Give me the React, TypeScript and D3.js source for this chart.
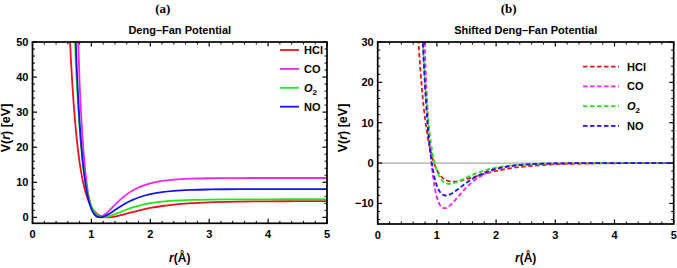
import React from "react";
import * as d3 from "d3";

// internuclear distance r (Å)
const R = [0.6, 0.65, 0.7, 0.75, 0.8, 0.85, 0.9, 0.95, 1.0, 1.05, 1.1, 1.15, 1.2, 1.25, 1.3, 1.4, 1.5, 1.6, 1.7, 1.8, 2.0, 2.2, 2.4, 2.7, 3.0, 3.5, 4.0, 4.5, 5.0];

// Deng-Fan potential V(r) in eV
const HCl = [64.85, 45.68, 32.15, 22.52, 15.62, 10.69, 7.157, 4.654, 2.901, 1.699, 0.903, 0.406, 0.129, 0.0125, 0.0119, 0.2345, 0.618, 1.062, 1.512, 1.937, 2.669, 3.229, 3.641, 4.049, 4.29, 4.488, 4.567, 4.599, 4.611];
const CO = [242.4, 156.2, 99.63, 62.5, 38.21, 22.48, 12.48, 6.326, 2.74, 0.859, 0.095, 0.0476, 0.444, 1.101, 1.895, 3.595, 5.186, 6.542, 7.642, 8.509, 9.691, 10.371, 10.752, 11.032, 11.147, 11.208, 11.222, 11.225, 11.225];
const O2 = [132.5, 88.77, 59.24, 39.17, 25.52, 16.26, 10.04, 5.912, 3.244, 1.589, 0.6325, 0.1554, 0.0023, 0.0635, 0.262, 0.871, 1.567, 2.231, 2.813, 3.302, 4.022, 4.474, 4.75, 4.972, 5.073, 5.134, 5.15, 5.154, 5.156];
const NO = [155.7, 102.3, 66.66, 42.83, 26.92, 16.37, 9.485, 5.103, 2.431, 0.923, 0.2, 0.00004, 0.139, 0.49, 0.966, 2.069, 3.17, 4.152, 4.98, 5.656, 6.62, 7.207, 7.556, 7.829, 7.949, 8.02, 8.038, 8.042, 8.043];

// dissociation energies (eV) used for the shifted potential
const wellDepths = [4.619, 11.2256, 5.156, 8.0437];

const seriesNames = ["HCl", "CO", "O2", "NO"];
const seriesValues = [HCl, CO, O2, NO];
const seriesColors = ["#e3161c", "#f224f2", "#22e622", "#1515e8"];

const xTicks = [0, 1, 2, 3, 4, 5];
const yTicksA = [0, 10, 20, 30, 40, 50];
const yTicksB = [-10, 0, 10, 20, 30];

const SANS = "'Liberation Sans', Arial, sans-serif";
const SERIF = "'Liberation Serif', 'Times New Roman', serif";

type PanelProps = {
  id: string;
  x0: number;
  x1: number;
  y0: number;
  y1: number;
  yDomain: [number, number];
  yTicks: number[];
  shifted: boolean;
  tag: string;
  title: string;
  ylabelX: number;
  legend: { lx0: number; lx1: number; tx: number; ty0: number; dy: number };
};

function LegendLabel({ name }: { name: string }) {
  if (name === "O2") {
    return (
      <>
        <tspan fontStyle="italic">O</tspan>
        <tspan fontSize={8} dy={3}>2</tspan>
      </>
    );
  }
  return <>{name}</>;
}

function Panel(p: PanelProps) {
  const x = d3.scaleLinear().domain([0, 5]).range([p.x0, p.x1]);
  const y = d3.scaleLinear().domain(p.yDomain).range([p.y1, p.y0]);
  const line = d3
    .line<[number, number]>()
    .x((d) => x(d[0]))
    .y((d) => y(d[1]))
    .curve(d3.curveMonotoneX);

  const xMinor = d3.range(0, 5.0001, 0.2).filter((v) => Math.abs(v - Math.round(v)) > 1e-6);
  const yMinor = d3
    .range(Math.ceil(p.yDomain[0] / 2) * 2, p.yDomain[1] + 0.001, 2)
    .filter((v) => Math.abs(v % 10) > 1e-6);

  const major = 4.5;
  const minor = 2.5;
  const cx = (p.x0 + p.x1) / 2;

  return (
    <g>
      <text x={cx - 17} y={13} fontFamily={SERIF} fontWeight="bold" fontSize={13} textAnchor="middle">
        {p.tag}
      </text>
      <text x={cx} y={34} fontFamily={SANS} fontWeight="bold" fontSize={11} textAnchor="middle">
        {p.title}
      </text>
      <defs>
        <clipPath id={p.id}>
          <rect x={p.x0} y={p.y0} width={p.x1 - p.x0} height={p.y1 - p.y0} />
        </clipPath>
      </defs>
      {p.shifted && (
        <line x1={p.x0} x2={p.x1} y1={y(0)} y2={y(0)} stroke="#a8a8a8" strokeWidth={1.2} />
      )}
      <g clipPath={`url(#${p.id})`}>
        {seriesValues.map((vals, i) => {
          const pts: [number, number][] = R.map((r, k) => [r, p.shifted ? vals[k] - wellDepths[i] : vals[k]]);
          return (
            <path
              key={seriesNames[i]}
              d={line(pts) || ""}
              fill="none"
              stroke={seriesColors[i]}
              strokeWidth={1.8}
              strokeDasharray={p.shifted ? "4.5,2.5" : undefined}
            />
          );
        })}
      </g>
      {/* frame */}
      <rect x={p.x0} y={p.y0} width={p.x1 - p.x0} height={p.y1 - p.y0} fill="none" stroke="#000" strokeWidth={1.7} />
      {/* x ticks */}
      {xTicks.map((t) => (
        <g key={"xt" + t}>
          <line x1={x(t)} x2={x(t)} y1={p.y1} y2={p.y1 - major} stroke="#000" strokeWidth={1.2} />
          <line x1={x(t)} x2={x(t)} y1={p.y0} y2={p.y0 + major} stroke="#000" strokeWidth={1.2} />
          <text x={x(t)} y={p.y1 + 15} fontFamily={SANS} fontWeight="bold" fontSize={11} textAnchor="middle">
            {t}
          </text>
        </g>
      ))}
      {xMinor.map((t, k) => (
        <g key={"xm" + k}>
          <line x1={x(t)} x2={x(t)} y1={p.y1} y2={p.y1 - minor} stroke="#000" strokeWidth={1} />
          <line x1={x(t)} x2={x(t)} y1={p.y0} y2={p.y0 + minor} stroke="#000" strokeWidth={1} />
        </g>
      ))}
      {p.yTicks.map((t) => (
        <g key={"yt" + t}>
          <line x1={p.x0} x2={p.x0 + major} y1={y(t)} y2={y(t)} stroke="#000" strokeWidth={1.2} />
          <line x1={p.x1} x2={p.x1 - major} y1={y(t)} y2={y(t)} stroke="#000" strokeWidth={1.2} />
          <text x={p.x0 - 4} y={y(t) + 4} fontFamily={SANS} fontWeight="bold" fontSize={11} textAnchor="end">
            {t < 0 ? "\u2212" + Math.abs(t) : t}
          </text>
        </g>
      ))}
      {yMinor.map((t, k) => (
        <g key={"ym" + k}>
          <line x1={p.x0} x2={p.x0 + minor} y1={y(t)} y2={y(t)} stroke="#000" strokeWidth={1} />
          <line x1={p.x1} x2={p.x1 - minor} y1={y(t)} y2={y(t)} stroke="#000" strokeWidth={1} />
        </g>
      ))}
      {/* axis labels */}
      <text x={cx} y={262} fontFamily={SANS} fontWeight="bold" fontSize={12} textAnchor="middle">
        <tspan fontStyle="italic">r</tspan>(Å)
      </text>
      <text
        transform={`translate(${p.ylabelX},128) rotate(-90)`}
        fontFamily={SANS}
        fontWeight="bold"
        fontSize={12.5}
        textAnchor="middle"
      >
        V(<tspan fontStyle="italic">r</tspan>) [eV]
      </text>
      {/* legend */}
      {seriesNames.map((n, i) => {
        const ly = p.legend.ty0 + i * p.legend.dy;
        return (
          <g key={"lg" + n}>
            <line
              x1={p.legend.lx0}
              x2={p.legend.lx1}
              y1={ly}
              y2={ly}
              stroke={seriesColors[i]}
              strokeWidth={1.8}
              strokeDasharray={p.shifted ? "4.5,2.5" : undefined}
            />
            <text x={p.legend.tx} y={ly + 4} fontFamily={SANS} fontWeight="bold" fontSize={11}>
              <LegendLabel name={n} />
            </text>
          </g>
        );
      })}
    </g>
  );
}

export default function App() {
  return (
    <svg width={677} height={268} style={{ position: "absolute", left: 0, top: 0, background: "#fff" }}>
      <rect x={0} y={0} width={677} height={268} fill="#fff" />
      <Panel
        id="clipA"
        x0={32.5}
        x1={327}
        y0={42}
        y1={223.3}
        yDomain={[-1.7, 50]}
        yTicks={yTicksA}
        shifted={false}
        tag="(a)"
        title="Deng–Fan Potential"
        ylabelX={10}
        legend={{ lx0: 280, lx1: 299, tx: 304, ty0: 50, dy: 18.9 }}
      />
      <Panel
        id="clipB"
        x0={377.7}
        x1={673.7}
        y0={42}
        y1={224}
        yDomain={[-15.1, 30]}
        yTicks={yTicksB}
        shifted={true}
        tag="(b)"
        title="Shifted Deng–Fan Potential"
        ylabelX={347}
        legend={{ lx0: 583, lx1: 619, tx: 627, ty0: 66.7, dy: 19.7 }}
      />
    </svg>
  );
}
